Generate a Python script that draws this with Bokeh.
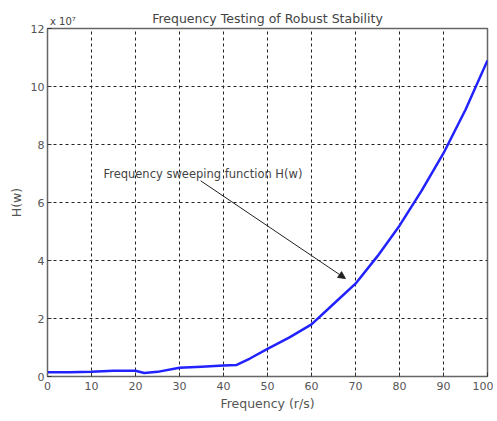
from bokeh.plotting import figure
from bokeh.models import Arrow, NormalHead, Label, FixedTicker, Range1d, LinearAxis
from bokeh.embed import file_html
from bokeh.resources import INLINE

freq = [0, 5, 10, 15, 20, 22, 25, 30, 35, 40, 43, 46, 50, 55, 60, 65, 70, 75, 80, 85, 90, 95, 100]
h_w = [0.15, 0.15, 0.16, 0.2, 0.2, 0.12, 0.16, 0.3, 0.34, 0.38, 0.4, 0.62, 0.95, 1.35, 1.8, 2.5, 3.2, 4.15, 5.2, 6.4, 7.7, 9.2, 10.9]
x_ticks = [0, 10, 20, 30, 40, 50, 60, 70, 80, 90, 100]
y_ticks = [0, 2, 4, 6, 8, 10, 12]
title_text = "Frequency Testing of Robust Stability"
scale_text = "x 10\u2077"

font = "DejaVu Sans"

p = figure(width=493, height=413, output_backend="svg", toolbar_location=None,
           x_range=Range1d(0, 100), y_range=Range1d(0, 12),
           min_border_left=47, min_border_right=6, min_border_top=28, min_border_bottom=37)

p.line(freq, h_w, line_color="#2222ff", line_width=2.5)

bottom = p.below[0]
left = p.left[0]
xt = FixedTicker(ticks=x_ticks)
yt = FixedTicker(ticks=y_ticks)
bottom.ticker = xt
left.ticker = yt
p.xgrid.ticker = xt
p.ygrid.ticker = yt
bottom.axis_label = "Frequency (r/s)"
left.axis_label = "H(w)"
for ax in (bottom, left):
    ax.major_tick_in = 4
    ax.major_tick_out = 0
    ax.minor_tick_in = 0
    ax.minor_tick_out = 0
    ax.major_label_text_font = font
    ax.major_label_text_font_size = "11px"
    ax.major_label_text_color = "#555555"
    ax.axis_label_text_font = font
    ax.axis_label_text_font_size = "12.5px"
    ax.axis_label_text_font_style = "normal"
    ax.axis_label_text_color = "#555555"
    ax.axis_line_color = "#666666"
    ax.major_tick_line_color = "#333333"
bottom.axis_label_standoff = 3
left.axis_label_standoff = 4
bottom.major_label_standoff = 5
left.major_label_standoff = 3

# top axis carrying the title (as axis label) and the scale factor (as a tick label)
top = LinearAxis(ticker=FixedTicker(ticks=[3.5]), major_label_overrides={3.5: scale_text},
                 axis_label=title_text)
top.axis_line_color = None
top.major_tick_line_color = None
top.minor_tick_line_color = None
top.major_tick_out = 0
top.major_tick_in = 0
top.major_label_standoff = 2
top.major_label_text_font = font
top.major_label_text_font_size = "10px"
top.major_label_text_color = "#444444"
top.axis_label_text_font = font
top.axis_label_text_font_size = "12.5px"
top.axis_label_text_font_style = "normal"
top.axis_label_text_color = "#444444"
top.axis_label_standoff = -13
p.add_layout(top, "above")

p.grid.grid_line_color = "#222222"
p.grid.grid_line_dash = "3 3"
p.grid.grid_line_width = 1
p.outline_line_color = "#666666"
p.outline_line_width = 1.5
p.background_fill_color = "white"

p.add_layout(Label(x=12.7, y=7.0, text="Frequency sweeping function H(w)", text_font=font,
                   text_font_size="11.5px", text_color="#444444", text_baseline="middle"))
p.add_layout(Arrow(x_start=34.8, y_start=6.75, x_end=67.7, y_end=3.38,
                   line_color="#222222", line_width=1,
                   end=NormalHead(size=7, fill_color="#222222", line_color="#222222")))

open("out.html", "w").write(file_html(p, INLINE))
